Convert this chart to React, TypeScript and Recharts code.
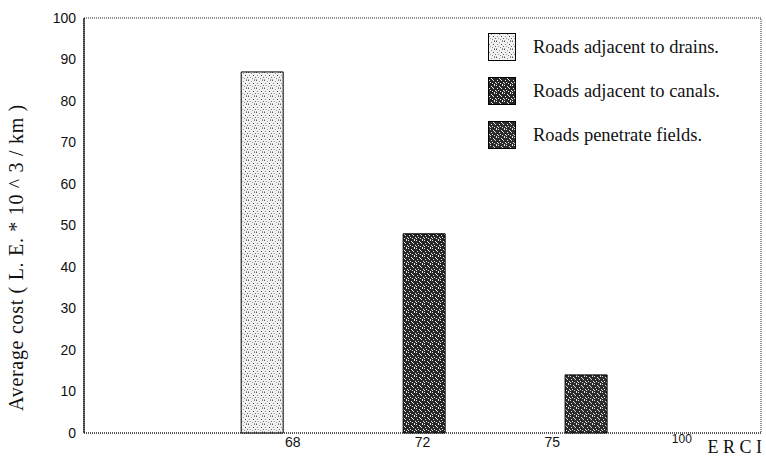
import { BarChart, Bar, Cell, XAxis, YAxis, Legend, ReferenceArea, Label } from 'recharts';

// ERCI categories shown under the axis
const ERCI_LABELS = ['68', '72', '75', '100'];
// one series per road type, one bar each
const SERIES_NAMES = ['Roads adjacent to drains.', 'Roads adjacent to canals.', 'Roads penetrate fields.'];
const AVG_COST = [87, 48, 14];
const Y_TICKS = [0, 10, 20, 30, 40, 50, 60, 70, 80, 90, 100];

const PATTERN_IDS = ['patDrains', 'patCanals', 'patFields'];

const chartData = AVG_COST.map((cost, i) => ({
  slot: i,
  cost,
  name: SERIES_NAMES[i],
}));

const SERIF = '"Liberation Serif", "DejaVu Serif", serif';
const SANS = '"Liberation Sans", Arial, sans-serif';

// stipple dots for the light / dark fills
const lightDots = [
  [0, 0, '#555'], [3, 1, '#999'], [6, 0, '#777'], [1, 3, '#888'], [5, 3, '#444'],
  [2, 5, '#999'], [7, 5, '#666'], [4, 6, '#888'], [0, 7, '#aaa'], [6, 7, '#999'],
];
const darkDots = [
  [0, 0], [3, 1], [6, 0], [1, 3], [5, 3], [2, 5], [7, 5], [4, 6], [0, 6], [6, 7], [4, 2],
];

const Patterns = () => (
  <svg width={0} height={0} style={{ position: 'absolute' }}>
    <defs>
      <pattern id="patDrains" width={8} height={8} patternUnits="userSpaceOnUse">
        <rect width={8} height={8} fill="#f2f2f2" />
        {lightDots.map(([x, y, c], i) => (
          <rect key={i} x={x as number} y={y as number} width={1} height={1} fill={c as string} />
        ))}
      </pattern>
      <pattern id="patCanals" width={8} height={8} patternUnits="userSpaceOnUse">
        <rect width={8} height={8} fill="#262626" />
        {darkDots.map(([x, y], i) => (
          <rect key={i} x={x} y={y} width={1} height={1} fill="#e8e8e8" />
        ))}
      </pattern>
      <pattern id="patFields" width={8} height={8} patternUnits="userSpaceOnUse">
        <rect width={8} height={8} fill="#2c2c2c" />
        {darkDots.map(([x, y], i) => (
          <rect key={i} x={(x + 2) % 8} y={y} width={1} height={1} fill="#e0e0e0" />
        ))}
      </pattern>
    </defs>
  </svg>
);

const ErciTick = ({ x, y, payload }: any) => {
  const isLast = payload.value === ERCI_LABELS.length - 1;
  return (
    <text
      x={x}
      y={y}
      dy={isLast ? 10 : 14}
      textAnchor="middle"
      fontFamily={SANS}
      fontSize={isLast ? 12 : 14}
      fill="#111"
    >
      {ERCI_LABELS[payload.value]}
    </text>
  );
};

const LegendBox = () => (
  <div style={{ fontFamily: SERIF, fontSize: 18.5, color: '#111' }}>
    {SERIES_NAMES.map((name, i) => (
      <div key={name} style={{ display: 'flex', alignItems: 'center', height: 44 }}>
        <svg width={28} height={28} style={{ marginRight: 17 }}>
          <rect x={0.5} y={0.5} width={27} height={27} fill={`url(#${PATTERN_IDS[i]})`} stroke="#000" />
        </svg>
        <span>{name}</span>
      </div>
    ))}
  </div>
);

export default function App() {
  return (
    <div style={{ position: 'absolute', left: 0, top: 0, width: 766, height: 459, background: '#fff' }}>
      <Patterns />
      <BarChart width={766} height={459} data={chartData} margin={{ top: 18, right: 5, bottom: 0, left: 0 }}>
        <XAxis
          xAxisId="bar"
          dataKey="slot"
          type="number"
          domain={[-1.1, 3.08]}
          allowDataOverflow
          height={0}
          hide
        />
        <XAxis
          xAxisId="erci"
          dataKey="slot"
          type="number"
          domain={[-1.61, 3.61]}
          allowDataOverflow
          ticks={[0, 1, 2, 3]}
          interval={0}
          tick={<ErciTick />}
          tickLine={false}
          tickSize={0}
          tickMargin={0}
          height={26}
          axisLine={{ stroke: '#222', strokeDasharray: '1 1' }}
        >
          <Label
            content={({ viewBox }: any) => (
              <text
                x={viewBox.x + viewBox.width + 1}
                y={viewBox.y + 20}
                textAnchor="end"
                fontFamily={SERIF}
                fontSize={18}
                fill="#111"
              >
                E R C I
              </text>
            )}
          />
        </XAxis>
        <YAxis
          domain={[0, 100]}
          ticks={Y_TICKS}
          width={84}
          tickLine={false}
          axisLine={{ stroke: '#000', strokeWidth: 1.2 }}
          tick={{ fontFamily: SANS, fontSize: 14, fill: '#111' }}
        >
          <Label
            content={({ viewBox }: any) => {
              const cx = 16;
              const cy = viewBox.y + viewBox.height / 2 + 32;
              return (
                <text
                  x={cx}
                  y={cy}
                  transform={`rotate(-90, ${cx}, ${cy})`}
                  textAnchor="middle"
                  dominantBaseline="central"
                  fontFamily={SERIF}
                  fontSize={20}
                  letterSpacing={0.7}
                  fill="#111"
                >
                  Average cost ( L. E. * 10 ^ 3 / km )
                </text>
              );
            }}
          />
        </YAxis>
        <ReferenceArea
          xAxisId="bar"
          y1={0}
          y2={100}
          fill="none"
          stroke="#222"
          strokeDasharray="1 1"
        />
        <Legend
          layout="vertical"
          align="center"
          verticalAlign="middle"
          content={<LegendBox />}
          wrapperStyle={{ top: 25, left: 488, width: 270 }}
        />
        <Bar xAxisId="bar" dataKey="cost" barSize={42} stroke="#000" strokeWidth={1} isAnimationActive={false}>
          {chartData.map((d, i) => (
            <Cell key={d.name} fill={`url(#${PATTERN_IDS[i]})`} />
          ))}
        </Bar>
      </BarChart>
    </div>
  );
}
